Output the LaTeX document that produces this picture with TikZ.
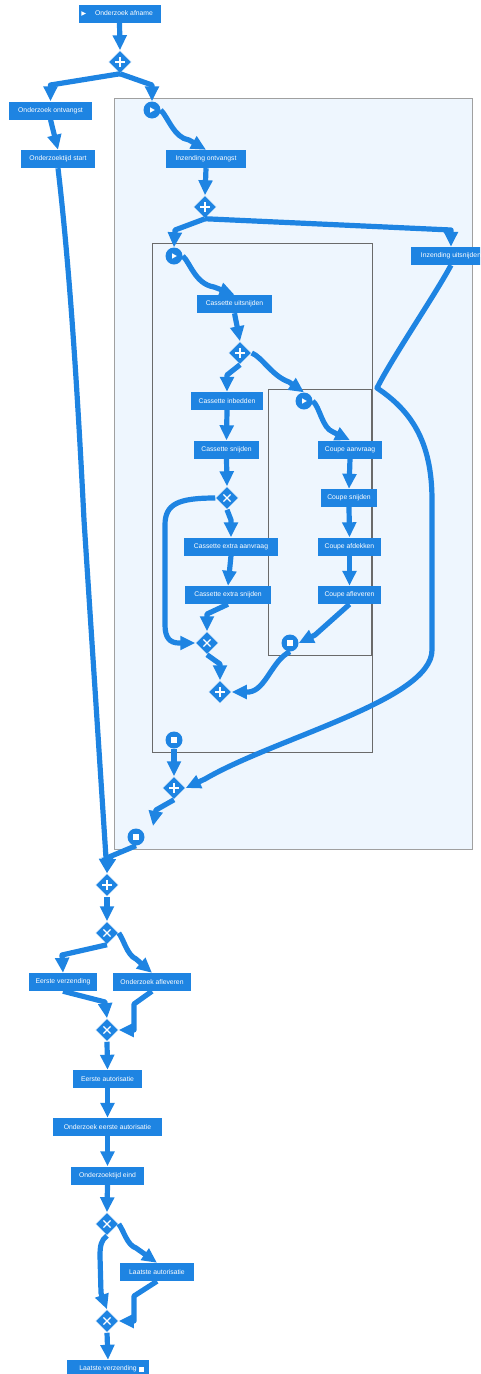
\documentclass[tikz,border=0pt]{standalone}
\usepackage{fontspec}
\setmainfont{Liberation Sans}
\usetikzlibrary{arrows.meta,shapes.geometric,calc}
\definecolor{bpblue}{HTML}{1E84E2}
\definecolor{poolfill}{HTML}{EEF6FE}
\definecolor{poolline}{HTML}{A0A0A0}
\definecolor{laneline}{HTML}{6A6A6A}

\begin{document}
\begin{tikzpicture}[x=1pt,y=-1pt,
  task/.style={fill=bpblue, text=white, minimum height=18pt, inner sep=0pt,
    font=\fontsize{6.8}{8}\selectfont},
  gate/.style={diamond, fill=bpblue, draw=white, line width=0.5pt,
    minimum size=23pt, inner sep=0pt},
  gplus/.style={gate, path picture={
    \draw[white,line width=1.2pt]
      ([xshift=-5pt]path picture bounding box.center) -- ([xshift=5pt]path picture bounding box.center)
      ([yshift=-5pt]path picture bounding box.center) -- ([yshift=5pt]path picture bounding box.center);}},
  gxor/.style={gate, path picture={
    \draw[white,line width=1.2pt]
      ([shift={(-3.6pt,-3.6pt)}]path picture bounding box.center) -- ([shift={(3.6pt,3.6pt)}]path picture bounding box.center)
      ([shift={(-3.6pt,3.6pt)}]path picture bounding box.center) -- ([shift={(3.6pt,-3.6pt)}]path picture bounding box.center);}},
  startev/.style={circle, fill=bpblue, minimum size=17pt, inner sep=0pt, path picture={
    \fill[white] ([shift={(-1.8pt,-2.6pt)}]path picture bounding box.center)
      -- ([shift={(-1.8pt,2.6pt)}]path picture bounding box.center)
      -- ([shift={(2.8pt,0pt)}]path picture bounding box.center) -- cycle;}},
  endev/.style={circle, fill=bpblue, minimum size=17pt, inner sep=0pt, path picture={
    \fill[white] ([shift={(-2.7pt,-2.7pt)}]path picture bounding box.center)
      rectangle ([shift={(2.7pt,2.7pt)}]path picture bounding box.center);}},
  flow/.style={draw=bpblue, line width=5.2pt, line join=round,
    -{Triangle[width=13.5pt,length=15pt]}},
]
\useasboundingbox (0,0) rectangle (480,1374);
\clip (0,0) rectangle (480,1374);

% pool and sub-process frames
\draw[poolline, fill=poolfill, line width=1pt] (114,98) rectangle (472,849);
\draw[laneline, line width=0.7pt] (152,243) rectangle (372,752);
\draw[laneline, line width=0.7pt] (268,389) rectangle (371,655);

% tasks
\node[task, minimum width=82pt] (afname) at (119.5,13.5) {\hspace{9pt}Onderzoek afname};
\node[task, minimum width=83pt] (ontvangst) at (50.5,110.5) {Onderzoek ontvangst};
\node[task, minimum width=74pt] (tijdstart) at (58,159) {Onderzoektijd start};
\node[task, minimum width=80pt] (inzontv) at (206,159) {Inzending ontvangst};
\node[task, minimum width=80pt] (inzuits) at (451,256) {Inzending uitsnijden};
\node[task, minimum width=75pt] (casuits) at (234.5,304) {Cassette uitsnijden};
\node[task, minimum width=72pt] (casinb) at (227,401) {Cassette inbedden};
\node[task, minimum width=65pt] (cassnij) at (226.5,449.5) {Cassette snijden};
\node[task, minimum width=64pt] (coupeaanv) at (350,449.5) {Coupe aanvraag};
\node[task, minimum width=56pt] (coupesnij) at (349,498) {Coupe snijden};
\node[task, minimum width=94pt] (casextaanv) at (231,546.5) {Cassette extra aanvraag};
\node[task, minimum width=63pt] (coupeafd) at (349.5,546.5) {Coupe afdekken};
\node[task, minimum width=86pt] (casextsnij) at (228,595) {Cassette extra snijden};
\node[task, minimum width=63pt] (coupeafl) at (349.5,595) {Coupe afleveren};
\node[task, minimum width=68pt] (eersteverz) at (63,982) {Eerste verzending};
\node[task, minimum width=78pt] (onderzafl) at (152,982) {Onderzoek afleveren};
\node[task, minimum width=69pt] (eersteaut) at (107.5,1079) {Eerste autorisatie};
\node[task, minimum width=109pt] (ondeersteaut) at (107.5,1127) {Onderzoek eerste autorisatie};
\node[task, minimum width=73pt] (tijdeind) at (107.5,1175.5) {Onderzoektijd eind};
\node[task, minimum width=74pt] (laatsteaut) at (157,1272) {Laatste autorisatie};
\node[task, minimum width=82pt] (laatsteverz) at (108,1369) {Laatste verzending\hspace{10pt}};

% task markers
\fill[white] ($(afname.west)+(3,-2.3)$) -- ++(4.5,2.3) -- ++(-4.5,2.3) -- cycle;
\fill[white] ($(laatsteverz.east)+(-10,-2.5)$) rectangle ++(5,5);

% gateways
\node[gplus] (g1) at (120,62) {};
\node[gplus] (g2) at (205,207) {};
\node[gplus] (g3) at (240,353) {};
\node[gxor] (x1) at (227,498) {};
\node[gxor] (x2) at (207,643) {};
\node[gplus] (g4) at (220,692) {};
\node[gplus] (g5) at (174,788) {};
\node[gplus] (g6) at (107,885) {};
\node[gxor] (x3) at (107,933) {};
\node[gxor] (x4) at (107,1030) {};
\node[gxor] (x5) at (107,1224) {};
\node[gxor] (x6) at (107,1321) {};

% events
\node[startev] (s1) at (152,110) {};
\node[startev] (s2) at (174,256) {};
\node[startev] (s3) at (304,401) {};
\node[endev] (e3) at (290,643) {};
\node[endev] (e2) at (174,740) {};
\node[endev] (e1) at (136,837) {};
\coordinate (e1in) at (153,826);

% sequence flows
\draw[flow] (afname.south) -- (g1.north);
\draw[flow] (g1.south) -- (50.5,85) -- (ontvangst.north);
\draw[flow] (g1.south) -- (152,85) -- (s1.north);
\draw[flow] (ontvangst.south) -- (tijdstart.north);
\draw[flow] (tijdstart.south) .. controls (70,270) and (78,400) .. (84,520) -- (g6.north);
\draw[flow] (s1.east) .. controls (168,117) and (174,138) .. (189,140) -- (inzontv.north);
\draw[flow] (inzontv.south) -- (g2.north);
\draw[flow] (g2.south) -- (175,230) -- (s2.north);
\draw[flow] (g2.south) -- (451,230) -- (inzuits.north);
\draw[flow] (s2.east) .. controls (190,262) and (195,284) .. (214,287) -- (casuits.north);
\draw[flow] (casuits.south) -- (g3.north);
\draw[flow] (g3.south) -- (227,375) -- (casinb.north);
\draw[flow] (g3.east) .. controls (262,357) and (272,376) .. (289,382) -- (s3.north);
\draw[flow] (casinb.south) -- (cassnij.north);
\draw[flow] (s3.east) .. controls (320,407) and (322,428) .. (333,432) -- (coupeaanv.north);
\draw[flow] (cassnij.south) -- (x1.north);
\draw[flow] (coupeaanv.south) -- (coupesnij.north);
\draw[flow] (x1.south) -- (231,520) -- (casextaanv.north);
\draw[flow] (x1.west) .. controls (178,498) and (165,504) .. (165,525) -- (165,625)
  .. controls (165,638) and (170,643) .. (179,643) -- (x2.west);
\draw[flow] (casextaanv.south) -- (casextsnij.north);
\draw[flow] (coupesnij.south) -- (coupeafd.north);
\draw[flow] (coupeafd.south) -- (coupeafl.north);
\draw[flow] (casextsnij.south) -- (207,614) -- (x2.north);
\draw[flow] (coupeafl.south) -- (315,635) -- (e3.east);
\draw[flow] (x2.south) -- (220,664) -- (g4.north);
\draw[flow] (e3.south) .. controls (272,660) and (266,690) .. (249,692) -- (g4.east);
\draw[flow] (inzuits.south) .. controls (435,295) and (392,358) .. (377,388)
  .. controls (410,410) and (432,440) .. (432,500) -- (432,650)
  .. controls (432,700) and (275,738) .. (205,779) -- (g5.east);
\draw[flow] (e2.south) -- (g5.north);
\draw[flow] (g5.south) -- (156,810) -- (e1in);
\draw[flow] (e1.south) -- (109,857) -- (g6.north);
\draw[flow] (g6.south) -- (x3.north);
\draw[flow] (x3.south) -- (62,955) -- (eersteverz.north);
\draw[flow] (x3.east) .. controls (124,940) and (127,955) .. (136,959) -- (onderzafl.north);
\draw[flow] (eersteverz.south) -- (105,1002) -- (x4.north);
\draw[flow] (onderzafl.south) -- (134,1004) -- (134,1030) -- (x4.east);
\draw[flow] (x4.south) -- (eersteaut.north);
\draw[flow] (eersteaut.south) -- (ondeersteaut.north);
\draw[flow] (ondeersteaut.south) -- (tijdeind.north);
\draw[flow] (tijdeind.south) -- (x5.north);
\draw[flow] (x5.south) .. controls (101,1240) and (100,1246) .. (100,1256) -- (101,1293) -- (x6.north);
\draw[flow] (x5.east) .. controls (124,1231) and (127,1245) .. (136,1248) -- (laatsteaut.north);
\draw[flow] (laatsteaut.south) -- (134,1296) -- (134,1321) -- (x6.east);
\draw[flow] (x6.south) -- (laatsteverz.north);
\end{tikzpicture}
\end{document}
